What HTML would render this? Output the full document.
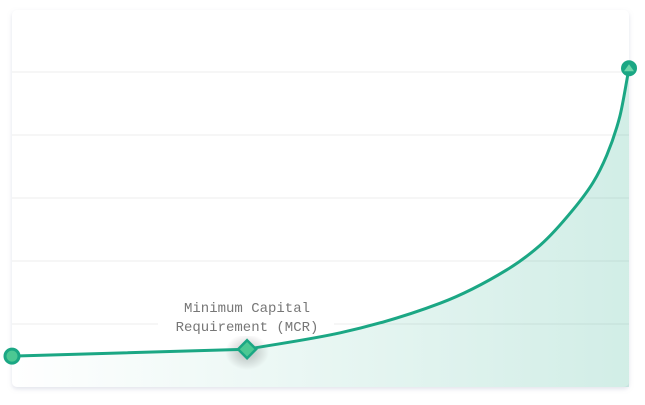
<!DOCTYPE html>
<html><head><meta charset="utf-8"><style>
html,body{margin:0;padding:0;background:#fff;}
svg{display:block;}
</style></head><body>
<svg width="645" height="405" viewBox="0 0 645 405">
<defs>
<filter id="cardsh" x="-5%" y="-5%" width="110%" height="115%"><feDropShadow dx="0" dy="2" stdDeviation="2.5" flood-color="#8890b0" flood-opacity="0.25"/></filter>
<linearGradient id="fillg" x1="0" x2="1" y1="0" y2="0">
<stop offset="0" stop-color="#1ba784" stop-opacity="0"/>
<stop offset="1" stop-color="#1ba784" stop-opacity="0.2"/>
</linearGradient>
<radialGradient id="glow"><stop offset="0" stop-color="#000" stop-opacity="0.25"/><stop offset="1" stop-color="#000" stop-opacity="0"/></radialGradient>
</defs>
<rect x="12" y="10" width="617" height="377" rx="5" fill="#fff" filter="url(#cardsh)"/>
<g id="grid"></g>
<path id="area" fill="url(#fillg)"/>
<ellipse cx="247" cy="352" rx="22" ry="18" fill="url(#glow)"/>
<rect x="158" y="296" width="176" height="40" fill="#fff"/>
<text x="247" y="312" text-anchor="middle" font-family="Liberation Mono, monospace" font-size="14" fill="#777">Minimum Capital</text>
<text x="247" y="331" text-anchor="middle" font-family="Liberation Mono, monospace" font-size="14" fill="#777">Requirement (MCR)</text>
<path id="line" fill="none" stroke="#1ba784" stroke-width="3"/>
<g id="marks"></g>
</svg>
<script>
const xs = [0, 0.381, 0.532, 0.694, 0.802, 0.856, 0.909, 0.942, 0.964, 0.985, 1];
const ys = [0.49, 0.60, 0.86, 1.33, 1.86, 2.25, 2.81, 3.25, 3.68, 4.29, 5.06];
const gridVals = [1, 2, 3, 4, 5];
const mcrIndex = 1;
const X = v => 12 + v * 617;
const Y = v => 387 - v * 63;
const NS = "http://www.w3.org/2000/svg";
const g = document.getElementById('grid');
gridVals.forEach(v => {
  const l = document.createElementNS(NS, 'line');
  l.setAttribute('x1', 12); l.setAttribute('x2', 629);
  l.setAttribute('y1', Y(v)); l.setAttribute('y2', Y(v));
  l.setAttribute('stroke', '#ececec'); l.setAttribute('stroke-width', 1);
  
  
  g.appendChild(l);
});
const P = xs.map((x, i) => [X(x), Y(ys[i])]);
// monotone cubic from mcrIndex onward
const Q = P.slice(mcrIndex);
const n = Q.length;
const dx = [], sl = [];
for (let i = 0; i < n - 1; i++) { dx.push(Q[i+1][0]-Q[i][0]); sl.push((Q[i+1][1]-Q[i][1])/dx[i]); }
const t = [sl[0]];
for (let i = 1; i < n - 1; i++) {
  if (sl[i-1]*sl[i] <= 0) t.push(0);
  else { const w1 = 2*dx[i]+dx[i-1], w2 = dx[i]+2*dx[i-1]; t.push((w1+w2)/(w1/sl[i-1]+w2/sl[i])); }
}
t.push(sl[n-2]);
let d = `M${P[0][0]},${P[0][1]} L${Q[0][0]},${Q[0][1]}`;
for (let i = 0; i < n - 1; i++) {
  const h = dx[i]/3;
  d += ` C${Q[i][0]+h},${Q[i][1]+t[i]*h} ${Q[i+1][0]-h},${Q[i+1][1]-t[i+1]*h} ${Q[i+1][0]},${Q[i+1][1]}`;
}
document.getElementById('line').setAttribute('d', d);
document.getElementById('area').setAttribute('d', d + ` L${X(1)},387 L${X(0)},387 Z`);
const m = document.getElementById('marks');
function add(tag, attrs, name) {
  const e = document.createElementNS(NS, tag);
  for (const k in attrs) e.setAttribute(k, attrs[k]);
  
  
  m.appendChild(e);
  return e;
}
const s = P[0], e = P[P.length - 1], c = P[mcrIndex];
add('circle', {cx: s[0], cy: s[1], r: 7, fill: '#4cc893', stroke: '#1ba784', 'stroke-width': 3}, 'start-point');
add('path', {d: `M${c[0]},${c[1]-9} L${c[0]+9},${c[1]} L${c[0]},${c[1]+9} L${c[0]-9},${c[1]} Z`, fill: '#4cc893', stroke: '#1ba784', 'stroke-width': 2.5}, 'mcr-point');
add('circle', {cx: e[0], cy: e[1], r: 8, fill: '#1ba784'}, 'end-point');
add('path', {d: `M${e[0]},${e[1]-4} L${e[0]+5},${e[1]+3} L${e[0]-5},${e[1]+3} Z`, fill: '#6fd6aa'}, 'end-point-arrow');
</script>
</body></html>
